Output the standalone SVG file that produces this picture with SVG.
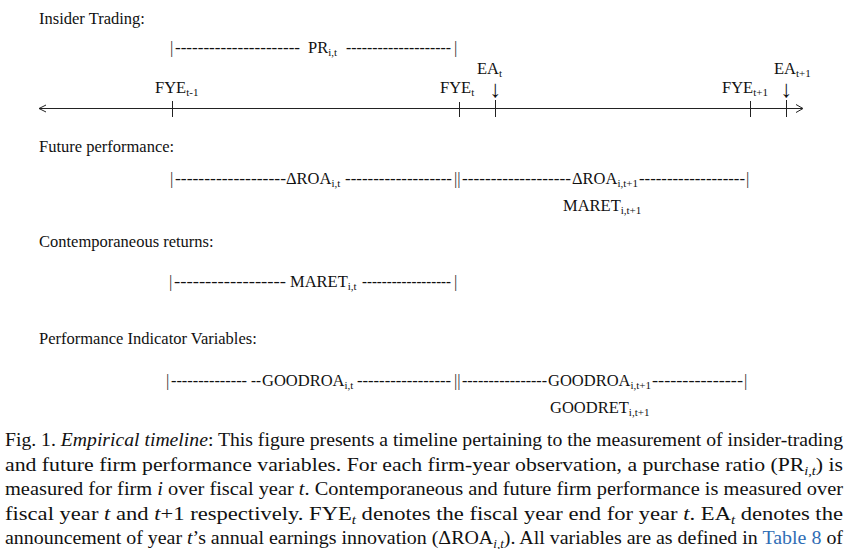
<svg xmlns="http://www.w3.org/2000/svg" width="853" height="549" viewBox="0 0 853 549">
<style>
text { font-family: "Liberation Serif", "Times New Roman", serif; fill: #111; }
.t { font-size: 16.5px; }
.s { font-size: 11px; }
.bar { font-size: 16.5px; fill: #333; }
.arr { font-size: 24px; }
.cap { font-size: 19px; }
.cs { font-size: 12.5px; }
.ax { stroke: #222; stroke-width: 1; fill: none; }
.blue { fill: #2f6db5; }
</style>
<rect width="853" height="549" fill="#fff"/>

<g id="connectors">
  <line class="ax" x1="39" y1="108.5" x2="802" y2="108.5"/>
  <polyline class="ax" points="46,105 39,108.5 46,112"/>
  <polyline class="ax" points="796,104.5 803,108.5 796,112.5"/>
  <line class="ax" x1="172.5" y1="101" x2="172.5" y2="117"/>
  <line class="ax" x1="459.5" y1="102" x2="459.5" y2="117"/>
  <line class="ax" x1="495.5" y1="100" x2="495.5" y2="117"/>
  <line class="ax" x1="750.5" y1="101" x2="750.5" y2="117"/>
  <line class="ax" x1="786.5" y1="100" x2="786.5" y2="117"/>
</g>

<g id="insider-trading">
  <text class="t" x="39" y="24">Insider Trading:</text>
  <text class="bar" x="170" y="53">|</text>
  <text class="t" x="175" y="53" textLength="125" lengthAdjust="spacingAndGlyphs">----------------------</text>
  <text class="t" x="308" y="53">PR<tspan class="s" dy="3">i,t</tspan></text>
  <text class="t" x="346" y="53" textLength="105" lengthAdjust="spacingAndGlyphs">--------------------</text>
  <text class="bar" x="454" y="53">|</text>
</g>

<g id="fye-labels">
  <text class="t" x="155" y="93">FYE<tspan class="s" dy="3">t-1</tspan></text>
  <text class="t" x="440" y="93">FYE<tspan class="s" dy="3">t</tspan></text>
  <text class="t" x="722" y="93">FYE<tspan class="s" dy="3">t+1</tspan></text>
</g>

<g id="ea-labels">
  <text class="t" x="477" y="74">EA<tspan class="s" dy="3">t</tspan></text>
  <text class="arr" x="495.5" y="97" text-anchor="middle">↓</text>
  <text class="t" x="774" y="74">EA<tspan class="s" dy="3">t+1</tspan></text>
  <text class="arr" x="786.5" y="97" text-anchor="middle">↓</text>
</g>

<g id="future-performance">
  <text class="t" x="39" y="152">Future performance:</text>
  <text class="bar" x="170" y="184">|</text>
  <text class="t" x="175" y="184" textLength="111" lengthAdjust="spacingAndGlyphs">-------------------</text>
  <text class="t" x="286" y="184">ΔROA<tspan class="s" dy="3">i,t</tspan></text>
  <text class="t" x="345" y="184" textLength="107" lengthAdjust="spacingAndGlyphs">-------------------</text>
  <text class="bar" x="454" y="184">||</text>
  <text class="t" x="462" y="184" textLength="109" lengthAdjust="spacingAndGlyphs">-------------------</text>
  <text class="t" x="572" y="184">ΔROA<tspan class="s" dy="3">i,t+1</tspan></text>
  <text class="t" x="639" y="184" textLength="106" lengthAdjust="spacingAndGlyphs">-------------------</text>
  <text class="bar" x="746" y="184">|</text>
  <text class="t" x="563" y="211">MARET<tspan class="s" dy="3">i,t+1</tspan></text>
</g>

<g id="contemporaneous-returns">
  <text class="t" x="39" y="247">Contemporaneous returns:</text>
  <text class="bar" x="169" y="287">|</text>
  <text class="t" x="174" y="287" textLength="112" lengthAdjust="spacingAndGlyphs">------------------</text>
  <text class="t" x="290" y="287">MARET<tspan class="s" dy="3">i,t</tspan></text>
  <text class="t" x="362" y="287" textLength="89" lengthAdjust="spacingAndGlyphs">------------------</text>
  <text class="bar" x="454" y="287">|</text>
</g>

<g id="performance-indicators">
  <text class="t" x="39" y="344">Performance Indicator Variables:</text>
  <text class="bar" x="166" y="386">|</text>
  <text class="t" x="171" y="386" textLength="76" lengthAdjust="spacingAndGlyphs">--------------</text>
  <text class="t" x="251" y="386" textLength="10" lengthAdjust="spacingAndGlyphs">--</text>
  <text class="t" x="262" y="386">GOODROA<tspan class="s" dy="3">i,t</tspan></text>
  <text class="t" x="357" y="386" textLength="94" lengthAdjust="spacingAndGlyphs">-----------------</text>
  <text class="bar" x="454" y="386">||</text>
  <text class="t" x="462" y="386" textLength="85" lengthAdjust="spacingAndGlyphs">----------------</text>
  <text class="t" x="548" y="386">GOODROA<tspan class="s" dy="3">i,t+1</tspan></text>
  <text class="t" x="652" y="386" textLength="91" lengthAdjust="spacingAndGlyphs">---------------</text>
  <text class="bar" x="744" y="386">|</text>
  <text class="t" x="550" y="413">GOODRET<tspan class="s" dy="3">i,t+1</tspan></text>
</g>

<g id="caption">
  <text class="cap" x="5" y="446" textLength="838" lengthAdjust="spacingAndGlyphs">Fig. 1.  <tspan font-style="italic">Empirical timeline</tspan>: This figure presents a timeline pertaining to the measurement of insider-trading</text>
  <text class="cap" x="5" y="471" textLength="838" lengthAdjust="spacingAndGlyphs">and future firm performance variables. For each firm-year observation, a purchase ratio (PR<tspan class="cs" font-style="italic" dy="4">i,t</tspan><tspan dy="-4">) is</tspan></text>
  <text class="cap" x="5" y="495" textLength="838" lengthAdjust="spacingAndGlyphs">measured for firm <tspan font-style="italic">i</tspan> over fiscal year <tspan font-style="italic">t</tspan>. Contemporaneous and future firm performance is measured over</text>
  <text class="cap" x="5" y="520" textLength="838" lengthAdjust="spacingAndGlyphs">fiscal year <tspan font-style="italic">t</tspan> and <tspan font-style="italic">t</tspan>+1 respectively. FYE<tspan class="cs" font-style="italic" dy="4">t</tspan><tspan dy="-4"> denotes the fiscal year end for year </tspan><tspan font-style="italic">t</tspan>. EA<tspan class="cs" font-style="italic" dy="4">t</tspan><tspan dy="-4"> denotes the</tspan></text>
  <text class="cap" x="5" y="544" textLength="838" lengthAdjust="spacingAndGlyphs">announcement of year <tspan font-style="italic">t</tspan>’s annual earnings innovation (ΔROA<tspan class="cs" font-style="italic" dy="4">i,t</tspan><tspan dy="-4">). All variables are as defined in </tspan><tspan class="blue">Table 8</tspan> of</text>
</g>
</svg>
